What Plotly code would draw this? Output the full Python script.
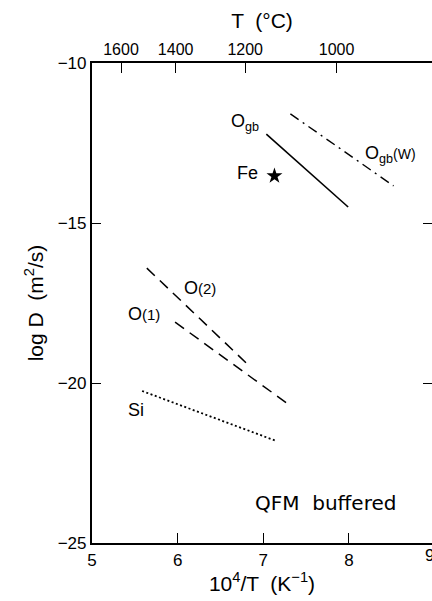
import plotly.graph_objects as go

# ---- data ----
ogb_x = [7.035, 7.99]
ogb_y = [-12.22, -14.50]
ogbw_x = [7.316, 8.52]
ogbw_y = [-11.59, -13.84]
o2_x = [5.64, 6.85]
o2_y = [-16.41, -19.50]
o1_x = [5.97, 7.29]
o1_y = [-18.10, -20.66]
si_x = [5.585, 7.15]
si_y = [-20.25, -21.81]
fe_x = [7.13]
fe_y = [-13.53]

x_ticks = [5, 6, 7, 8]
y_ticks = [-25, -20, -15, -10]
temp_c = [1600, 1400, 1200, 1000]
temp_pos = [1e4 / (t + 273.15) for t in temp_c]
temp_labels = [str(t) for t in temp_c]

XR = [5, 8.969]
YR = [-25, -10]
FONT = "Liberation Sans, Arial, sans-serif"

fig = go.Figure()
fig.add_trace(go.Scatter(x=ogb_x, y=ogb_y, mode="lines",
                         line=dict(color="black", width=1.6)))
fig.add_trace(go.Scatter(x=ogbw_x, y=ogbw_y, mode="lines",
                         line=dict(color="black", width=1.4, dash="10px,5px,2px,5px")))
fig.add_trace(go.Scatter(x=o2_x, y=o2_y, mode="lines",
                         line=dict(color="black", width=1.5, dash="11px,7px")))
fig.add_trace(go.Scatter(x=o1_x, y=o1_y, mode="lines",
                         line=dict(color="black", width=1.5, dash="11px,7px")))
fig.add_trace(go.Scatter(x=si_x, y=si_y, mode="lines",
                         line=dict(color="black", width=1.8, dash="2px,2.5px")))
fig.add_trace(go.Scatter(x=fe_x, y=fe_y, mode="markers",
                         marker=dict(symbol="star", size=12, color="black",
                                     line=dict(width=0))))
# dummy traces to activate the top and right axes
fig.add_trace(go.Scatter(x=[None], y=[None], xaxis="x2", yaxis="y", showlegend=False))
fig.add_trace(go.Scatter(x=[None], y=[None], xaxis="x", yaxis="y2", showlegend=False))

labels = [
    (6.79, -11.85, "O<sub>gb</sub>"),
    (6.82, -13.44, "Fe"),
    (8.49, -12.85, "O<sub>gb</sub><span style='font-size:14px'>(W)</span>"),
    (6.26, -17.03, "O<span style='font-size:15px'>(2)</span>"),
    (5.61, -17.84, "O<span style='font-size:15px'>(1)</span>"),
    (5.51, -20.84, "Si"),
]
for x, y, t in labels:
    fig.add_annotation(x=x, y=y, text=t, showarrow=False, xref="x", yref="y",
                       font=dict(size=18, color="black", family=FONT))
fig.add_annotation(x=7.72, y=-23.75, text="QFM  buffered", showarrow=False,
                   xref="x", yref="y",
                   font=dict(size=20, color="black", family="DejaVu Sans, sans-serif"))
# partially visible "9" tick label at the clipped right edge
fig.add_annotation(x=(436 - 92) / 340, y=0, xref="paper", yref="paper",
                   text="9", showarrow=False, yanchor="top", yshift=-1,
                   font=dict(size=17, color="black", family=FONT))

axis_common = dict(showgrid=False, zeroline=False, color="black",
                   ticks="inside", tickcolor="black", tickwidth=1.2)

fig.update_layout(
    width=432, height=601,
    margin=dict(l=92, r=0, t=63, b=58),
    paper_bgcolor="white", plot_bgcolor="white",
    showlegend=False,
    font=dict(family=FONT, color="black", size=15),
    xaxis=dict(range=XR, tickvals=x_ticks, ticklen=10, showline=True, linewidth=2.2,
               linecolor="black", tickfont=dict(size=17),
               title=dict(text="10<sup>4</sup>/T  (K<sup>−1</sup>)",
                          font=dict(size=21), standoff=4),
               **axis_common),
    xaxis2=dict(range=XR, overlaying="x", side="top", anchor="y",
                tickvals=temp_pos, ticktext=temp_labels, ticklen=10,
                showline=True, linewidth=2.2, linecolor="black",
                tickfont=dict(size=16),
                title=dict(text="T  (°C)", font=dict(size=21), standoff=6),
                **axis_common),
    yaxis=dict(range=YR, tickvals=y_ticks, ticklen=9, showline=True, linewidth=2.2,
               linecolor="black", tickfont=dict(size=17),
               title=dict(text="log D  (m<sup>2</sup>/s)", font=dict(size=21),
                          standoff=8),
               **axis_common),
    yaxis2=dict(range=YR, overlaying="y", side="right", anchor="x",
                tickvals=[-20, -15], ticklen=9, showline=False,
                showticklabels=False, **axis_common),
)

fig.write_html("out.html")
